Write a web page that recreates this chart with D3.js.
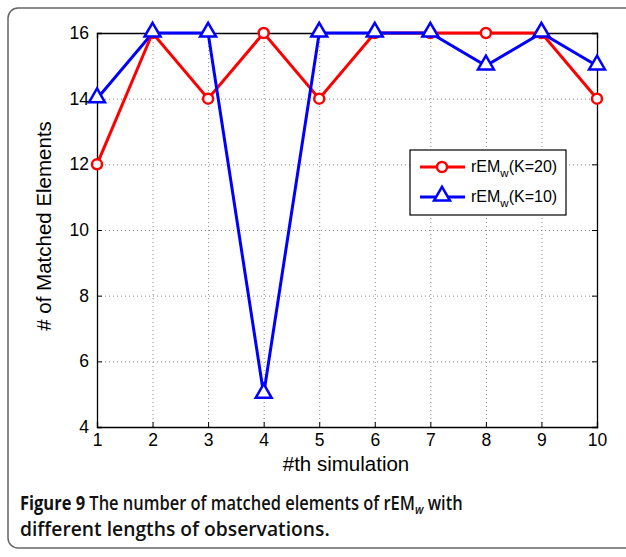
<!DOCTYPE html>
<html>
<head>
    <script src="https://d3js.org/d3.v7.min.js"></script>
    <style>
        body { margin: 0; background: #fff; }
        .grid line { stroke: #888; stroke-dasharray: 1,3; }
        .grid .domain { display: none; }
    </style>
</head>
<body>
    <svg id="chart" width="626" height="557"></svg>
    <script>
        const simulations = [1, 2, 3, 4, 5, 6, 7, 8, 9, 10];
        const k20 = [12, 16, 14, 16, 14, 16, 16, 16, 16, 14];
        const k10 = [14, 16, 16, 5, 16, 16, 16, 15, 16, 15];
        const yTicks = [4, 6, 8, 10, 12, 14, 16];

        const svg = d3.select("#chart");
        const margin = { top: 33, left: 97, right: 29, bottom: 130 };
        const width = 626 - margin.left - margin.right;
        const height = 557 - margin.top - margin.bottom;
        const sans = "Liberation Sans, Arial, sans-serif";

        // outer frame
        svg.append("rect")
            .attr("x", 8).attr("y", 8)
            .attr("width", 640).attr("height", 540)
            .attr("rx", 10)
            .attr("fill", "none")
            .attr("stroke", "#666")
            .attr("stroke-width", 1.5);

        const g = svg.append("g")
            .attr("transform", `translate(${margin.left},${margin.top})`);

        const x = d3.scaleLinear().domain([1, 10]).range([0, width]);
        const y = d3.scaleLinear().domain([4, 16]).range([height, 0]);

        // gridlines
        g.append("g").attr("class", "grid")
            .attr("transform", `translate(0,${height})`)
            .call(d3.axisBottom(x).tickValues(simulations).tickSize(-height).tickFormat(""));
        g.append("g").attr("class", "grid")
            .call(d3.axisLeft(y).tickValues(yTicks).tickSize(-width).tickFormat(""));

        // axes with inward ticks
        g.append("g")
            .attr("transform", `translate(0,${height})`)
            .call(d3.axisBottom(x).tickValues(simulations).tickSize(-5).tickPadding(7));
        g.append("g")
            .call(d3.axisLeft(y).tickValues(yTicks).tickSize(-5).tickPadding(8));
        g.append("g")
            .call(d3.axisTop(x).tickValues(simulations).tickSize(-5).tickFormat(""));
        g.append("g")
            .attr("transform", `translate(${width},0)`)
            .call(d3.axisRight(y).tickValues(yTicks).tickSize(-5).tickFormat(""));
        g.selectAll(".domain").attr("stroke", "#000").attr("stroke-width", 1.3);
        g.selectAll(".tick text")
            .attr("font-family", sans)
            .attr("font-size", 17.5)
            .attr("fill", "#000");

        const line = d3.line()
            .x((d, i) => x(simulations[i]))
            .y(d => y(d));

        g.append("path").datum(k20)
            .attr("d", line)
            .attr("fill", "none")
            .attr("stroke", "#ff0000")
            .attr("stroke-width", 3);

        g.append("path").datum(k10)
            .attr("d", line)
            .attr("fill", "none")
            .attr("stroke", "#0000ff")
            .attr("stroke-width", 3);

        const tri = d3.symbol().type(d3.symbolTriangle).size(110);

        g.selectAll("circle.k20").data(k20)
            .join("circle")
            .attr("class", "k20")
            .attr("cx", (d, i) => x(simulations[i]))
            .attr("cy", d => y(d))
            .attr("r", 5)
            .attr("fill", "#fff")
            .attr("stroke", "#ff0000")
            .attr("stroke-width", 2.5);

        g.selectAll("path.k10").data(k10)
            .join("path")
            .attr("class", "k10")
            .attr("d", tri)
            .attr("transform", (d, i) => `translate(${x(simulations[i])},${y(d) - 1})`)
            .attr("fill", "#fff")
            .attr("stroke", "#0000ff")
            .attr("stroke-width", 2.5);

        // legend
        const legend = svg.append("g").attr("transform", "translate(410,150)");
        legend.append("rect")
            .attr("width", 156).attr("height", 65)
            .attr("fill", "#fff").attr("stroke", "#000").attr("stroke-width", 1.2);
        const entries = [
            { label: "(K=20)", color: "#ff0000", kind: "circle" },
            { label: "(K=10)", color: "#0000ff", kind: "tri" }
        ];
        entries.forEach((e, i) => {
            const ly = 17 + i * 30;
            legend.append("line")
                .attr("x1", 10).attr("x2", 55).attr("y1", ly).attr("y2", ly)
                .attr("stroke", e.color).attr("stroke-width", 3);
            if (e.kind === "circle") {
                legend.append("circle").attr("cx", 32).attr("cy", ly).attr("r", 5)
                    .attr("fill", "#fff").attr("stroke", e.color).attr("stroke-width", 2.5);
            } else {
                legend.append("path").attr("d", tri)
                    .attr("transform", `translate(32,${ly - 1})`)
                    .attr("fill", "#fff").attr("stroke", e.color).attr("stroke-width", 2.5);
            }
            const t = legend.append("text")
                .attr("x", 61).attr("y", ly + 5)
                .style("font-family", sans)
                .style("font-size", "16px");
            t.append("tspan").text("rEM");
            t.append("tspan").attr("dy", 5).style("font-size", "11.5px").text("w");
            t.append("tspan").attr("dy", -5).text(e.label);
        });

        // axis titles
        svg.append("text")
            .attr("x", 346).attr("y", 471)
            .attr("text-anchor", "middle")
            .style("font-family", sans)
            .style("font-size", "20.5px")
            .text("#th simulation");
        svg.append("text")
            .attr("transform", `translate(51,226) rotate(-90)`)
            .attr("text-anchor", "middle")
            .style("font-family", sans)
            .style("font-size", "20.5px")
            .text("# of Matched Elements");

        // caption, squeezed horizontally to the reference width
        const capFont = "Open Sans, Noto Sans, sans-serif";
        function captionLine(yPos, targetWidth, build) {
            const holder = svg.append("g");
            const t = holder.append("text")
                .attr("x", 0).attr("y", 0)
                .style("font-family", capFont)
                .style("font-size", "19px")
                .style("font-weight", "600")
                .style("fill", "#111");
            build(t);
            const w = t.node().getBBox().width;
            holder.attr("transform", `translate(20,${yPos}) scale(${targetWidth / w},1)`);
        }
        captionLine(510, 443, t => {
            t.append("tspan").style("font-weight", "bold").text("Figure 9 ");
            t.append("tspan").text("The number of matched elements of rEM");
            t.append("tspan").attr("dy", 4).style("font-size", "13px").style("font-style", "italic").text("w");
            t.append("tspan").attr("dy", -4).text(" with");
        });
        captionLine(536, 310, t => {
            t.append("tspan").text("different lengths of observations.");
        });
    </script>
</body>
</html>
